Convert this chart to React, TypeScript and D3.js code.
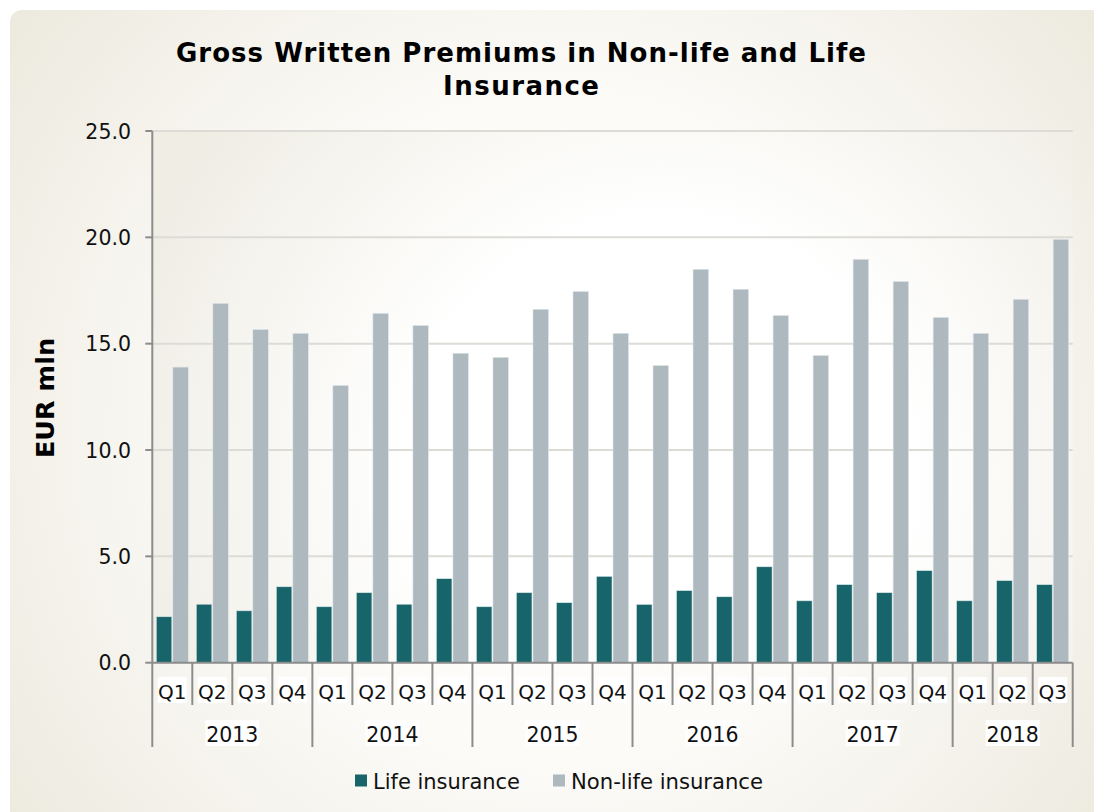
import React from "react";
import * as d3 from "d3";

const years = ["2013", "2014", "2015", "2016", "2017", "2018"];
const quartersPerYear = [4, 4, 4, 4, 4, 3];
const quarterLabels = ["Q1", "Q2", "Q3", "Q4"];
const lifeValues = [2.16, 2.75, 2.44, 3.57, 2.63, 3.29, 2.75, 3.95, 2.63, 3.29, 2.82, 4.06, 2.74, 3.39, 3.1, 4.51, 2.91, 3.67, 3.29, 4.33, 2.91, 3.86, 3.67];
const nonLifeValues = [13.9, 16.9, 15.67, 15.49, 13.04, 16.43, 15.86, 14.55, 14.36, 16.62, 17.46, 15.49, 13.98, 18.5, 17.56, 16.33, 14.45, 18.97, 17.93, 16.24, 15.49, 17.09, 19.91];
const yTicks = [0, 5, 10, 15, 20, 25];
const seriesNames = ["Life insurance", "Non-life insurance"];
const seriesColors = ["#17646a", "#adb8bf"];

const W = 1094;
const H = 812;
const plot = { left: 152.3, right: 1072.7, top: 131, bottom: 662.7 };

export default function App() {
  const cats: { year: string; q: string; yi: number; idx: number }[] = [];
  years.forEach((y, yi) => {
    for (let k = 0; k < quartersPerYear[yi]; k++) cats.push({ year: y, q: quarterLabels[k], yi, idx: cats.length });
  });
  const x = d3.scaleBand<number>().domain(cats.map((c) => c.idx)).range([plot.left, plot.right]).padding(0);
  const inner = d3.scaleBand<string>().domain(seriesNames).range([0, x.bandwidth()]).paddingInner(0.06).paddingOuter(0.24);
  const y = d3.scaleLinear().domain([0, 25]).range([plot.bottom, plot.top]);
  const fmt = d3.format(".1f");

  const yearStarts: number[] = [];
  let acc = 0;
  quartersPerYear.forEach((n) => { yearStarts.push(acc); acc += n; });

  const axisColor = "#8c8c8c";
  const font = "'DejaVu Sans', Verdana, sans-serif";

  return (
    <svg width={W} height={H} style={{ position: "absolute", left: 0, top: 0 }} fontFamily={font}>
      <defs>
        <radialGradient id="bg" cx="560" cy="430" r="720" gradientUnits="userSpaceOnUse">
          <stop offset="0" stopColor="#ffffff" />
          <stop offset="0.45" stopColor="#fcfbf8" />
          <stop offset="1" stopColor="#ebe8dc" />
        </radialGradient>
        <radialGradient id="pbg" cx="660" cy="470" r="560" gradientUnits="userSpaceOnUse">
          <stop offset="0" stopColor="#ffffff" />
          <stop offset="0.45" stopColor="#ffffff" />
          <stop offset="1" stopColor="#efede4" />
        </radialGradient>
      </defs>
      <rect x={0} y={0} width={W} height={H} fill="#ffffff" />
      <rect x={10} y={10} width={W + 20} height={H + 20} rx={12} fill="url(#bg)" />
      <rect x={plot.left} y={plot.top} width={plot.right - plot.left} height={plot.bottom - plot.top} fill="url(#pbg)" />

      {/* title */}
      <text x={521} y={62} textAnchor="middle" fontSize={26} fontWeight="bold" textLength={690} lengthAdjust="spacing">
        Gross Written Premiums in Non-life and Life
      </text>
      <text x={521} y={95} textAnchor="middle" fontSize={26} fontWeight="bold" textLength={156} lengthAdjust="spacing">
        Insurance
      </text>

      {/* gridlines */}
      {yTicks.filter((t) => t > 0).map((t) => (
        <line key={t} x1={plot.left} x2={plot.right} y1={y(t)} y2={y(t)} stroke="#dcdbd6" strokeWidth={2} />
      ))}

      {/* bars */}
      {cats.map((c) => {
        const x0 = x(c.idx)!;
        return (
          <g key={c.idx}>
            <rect x={x0 + inner(seriesNames[0])!} y={y(lifeValues[c.idx])} width={inner.bandwidth()} height={y(0) - y(lifeValues[c.idx])} fill={seriesColors[0]} stroke="#d8e4e4" strokeWidth={0.6} />
            <rect x={x0 + inner(seriesNames[1])!} y={y(nonLifeValues[c.idx])} width={inner.bandwidth()} height={y(0) - y(nonLifeValues[c.idx])} fill={seriesColors[1]} stroke="#e4e9ec" strokeWidth={0.6} />
          </g>
        );
      })}

      {/* y axis */}
      <line x1={plot.left} x2={plot.left} y1={plot.top} y2={plot.bottom} stroke={axisColor} strokeWidth={2} />
      {yTicks.map((t) => (
        <g key={t}>
          <line x1={plot.left - 7} x2={plot.left} y1={y(t)} y2={y(t)} stroke={axisColor} strokeWidth={2} />
          <text x={131} y={y(t) + 7.5} textAnchor="end" fontSize={20.5} fill="#111">{fmt(t)}</text>
        </g>
      ))}
      <text transform={`translate(54,398) rotate(-90)`} textAnchor="middle" fontSize={25.5} fontWeight="bold" fill="#000">EUR mln</text>

      {/* x axis */}
      <line x1={plot.left} x2={plot.right} y1={plot.bottom} y2={plot.bottom} stroke={axisColor} strokeWidth={2} />
      {cats.map((c) => {
        const x0 = x(c.idx)!;
        const cx = x0 + x.bandwidth() / 2;
        return (
          <g key={"q" + c.idx}>
            <line x1={x0} x2={x0} y1={plot.bottom} y2={705} stroke={axisColor} strokeWidth={2} />
            <rect x={cx - 14.5} y={677} width={29} height={26} fill="#ffffff" />
            <text x={cx} y={698.5} textAnchor="middle" fontSize={20} fill="#111">{c.q}</text>
          </g>
        );
      })}
      <line x1={plot.right} x2={plot.right} y1={plot.bottom} y2={747} stroke={axisColor} strokeWidth={2} />
      {years.map((yr, yi) => {
        const s = x(yearStarts[yi])!;
        const e = s + x.bandwidth() * quartersPerYear[yi];
        const cx = (s + e) / 2;
        return (
          <g key={yr}>
            <line x1={s} x2={s} y1={705} y2={747} stroke={axisColor} strokeWidth={2} />
            <rect x={cx - 27} y={720} width={54} height={26} fill="#ffffff" />
            <text x={cx} y={742} textAnchor="middle" fontSize={20.5} fill="#111">{yr}</text>
          </g>
        );
      })}

      {/* legend */}
      <rect x={355} y={774.5} width={12} height={12} fill={seriesColors[0]} />
      <text x={373} y={789} fontSize={21} fill="#111" textLength={147} lengthAdjust="spacingAndGlyphs">{seriesNames[0]}</text>
      <rect x={553} y={774.5} width={12} height={12} fill={seriesColors[1]} />
      <text x={571} y={789} fontSize={21} fill="#111" textLength={192} lengthAdjust="spacingAndGlyphs">{seriesNames[1]}</text>
    </svg>
  );
}
